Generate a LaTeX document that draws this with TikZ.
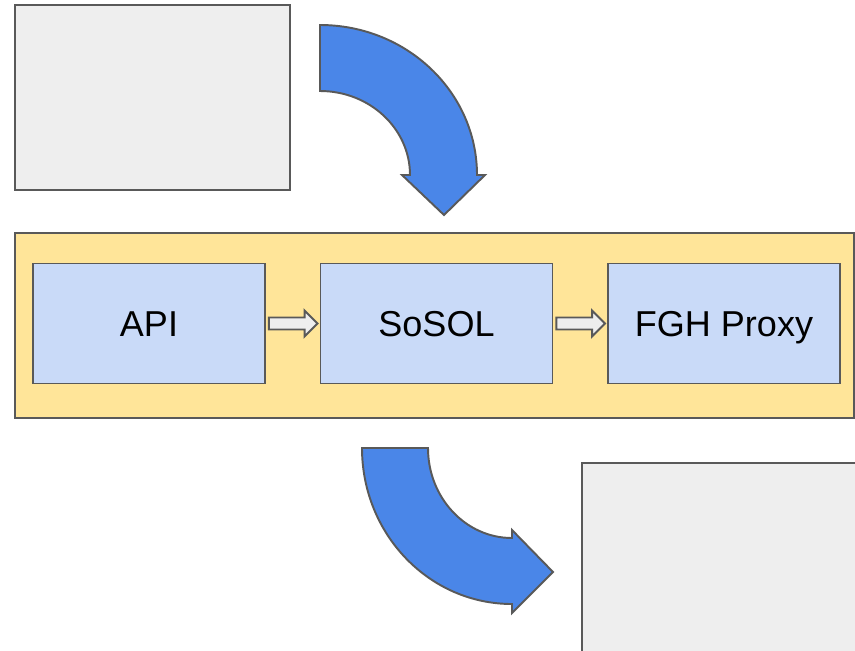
\documentclass[tikz,border=0pt]{standalone}
\usepackage{fontspec}
\setmainfont{Liberation Sans}
\usetikzlibrary{calc}
\definecolor{boxgrey}{HTML}{EEEEEE}
\definecolor{edgegrey}{HTML}{595959}
\definecolor{panelyellow}{HTML}{FFE599}
\definecolor{stageblue}{HTML}{C9DAF8}
\definecolor{flowblue}{HTML}{4A86E8}
\tikzset{
  outline/.style={draw=edgegrey,line width=1.1pt},
  stage/.style={outline,fill=stageblue,minimum width=4.64cm,minimum height=2.4cm,
    inner sep=0pt,text height=14.7pt,text depth=0pt,
    font=\fontsize{20.5}{24}\selectfont},
  hop/.style={outline,fill=boxgrey,line join=miter},
  curvearrow/.style={outline,fill=flowblue,line join=miter}
}
\begin{document}
\begin{tikzpicture}[x=0.02cm,y=-0.02cm]
            \useasboundingbox (0,0) rectangle (855,650);
            % outer boxes
            \draw[outline,fill=boxgrey] (15,5) rectangle (290,190);
            \draw[outline,fill=boxgrey] (582,463) rectangle (858,652);
            \draw[outline,fill=panelyellow] (15,233) rectangle (854,418);
            \begin{scope}[every node/.style={stage}]
                \node (api) at (149,323.5) {API};
                \node (sosol) at (436.5,323.5) {SoSOL};
                \node (fgh) at (724,323.5) {FGH Proxy};
            \end{scope}
            % small block arrows between the stages
            \foreach \a/\b in {api/sosol,sosol/fgh} {
                \draw[hop] ($(\a.east)+(3,-6)$) -- ($(\b.west)+(-15,-6)$)
                    -- ($(\b.west)+(-15,-13)$) -- ($(\b.west)+(-2,0)$)
                    -- ($(\b.west)+(-15,13)$) -- ($(\b.west)+(-15,6)$)
                    -- ($(\a.east)+(3,6)$) -- cycle;
            }
            % curved arrows
            \draw[curvearrow] (320,25) arc[start angle=-90,end angle=0,x radius=157,y radius=150]
                -- (485,175) -- (444,215) -- (402,175) -- (410,175)
                arc[start angle=0,end angle=-90,x radius=90,y radius=84] -- cycle;
            \draw[curvearrow] (362,448) arc[start angle=180,end angle=90,x radius=150,y radius=156]
                -- (512,613) -- (553,572) -- (512,530) -- (512,538)
                arc[start angle=90,end angle=180,x radius=84,y radius=90] -- cycle;
        \end{tikzpicture}
\end{document}
